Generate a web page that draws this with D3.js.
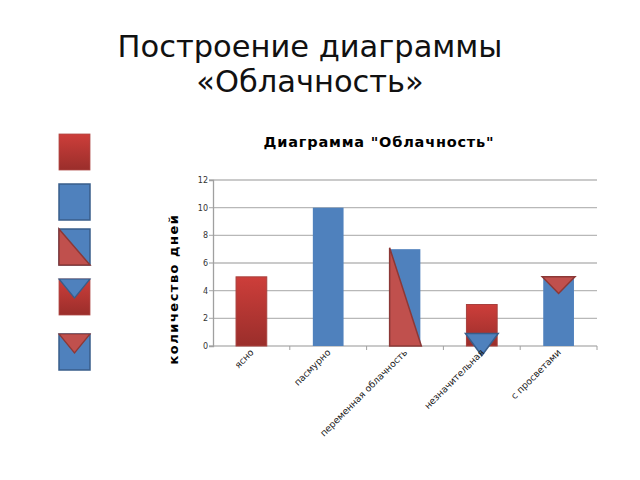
<!DOCTYPE html>
<html><head><meta charset="utf-8">
<script src="https://cdn.jsdelivr.net/npm/d3@7"></script>
<style>body{margin:0;background:#fff}svg{display:block}</style>
</head><body>
<svg id="c" width="640" height="480"></svg>
<script>
const slideTitle = ["Построение диаграммы", "«Облачность»"];
const chartTitle = 'Диаграмма "Облачность"';
const yAxisTitle = "количество дней";
const categories = ["ясно", "пасмурно", "переменная облачность", "незначительная", "с просветами"];
const values = [5, 10, 7, 3, 5];
const barSeries = ["red", "blue", "blue", "red", "blue"];
// overlay triangles: [top value, bottom value] per category (null = none)
const overlayKind = [null, null, "diag", "down", "down"];
const overlayTop = [null, null, 7.1, 0.9, 5];
const overlayBottom = [null, null, 0, -0.7, 3.8];
const overlaySeries = [null, null, "red", "blue", "red"];
const yTicks = [0, 2, 4, 6, 8, 10, 12];

const svg = d3.select("#c");
const defs = svg.append("defs");
const gr = defs.append("linearGradient").attr("id","gRed").attr("x1",0).attr("y1",0).attr("x2",0).attr("y2",1);
gr.append("stop").attr("offset","0%").attr("stop-color","#cd3e3a");
gr.append("stop").attr("offset","100%").attr("stop-color","#9a2e2b");

const fills = {red:"url(#gRed)", blue:"#4f81bd"};
const triFill = {red:"#c0504d", blue:"#4f81bd"};
const triStroke = {red:"#8c3836", blue:"#385d8a"};

// slide title
svg.append("text")
  .attr("font-family","DejaVu Sans").attr("font-size",30.5).attr("fill","#111")
  .attr("text-anchor","middle")
  .selectAll("tspan").data(slideTitle).join("tspan")
  .attr("x",310).attr("y",(d,i)=>57+i*35).text(d=>d);

// chart
const x = d3.scaleBand().domain(categories).range([213,597]).paddingInner(0.6).paddingOuter(0.3);
const xb = d3.scaleBand().domain(categories).range([213,597]);
const y = d3.scaleLinear().domain([0,12]).range([346,180]);

svg.append("text").attr("x",379).attr("y",147).attr("text-anchor","middle")
  .attr("font-family","DejaVu Sans").attr("font-weight","bold").attr("font-size",14.5)
  .attr("letter-spacing",0.8).attr("fill","#000").text(chartTitle);

// gridlines
svg.append("g").selectAll("line").data(yTicks).join("line")
  .attr("x1",209).attr("x2",597).attr("y1",d=>y(d)).attr("y2",d=>y(d))
  .attr("stroke","#b8b8b8").attr("stroke-width",1.3);

// y axis
const ya = svg.append("g").attr("transform","translate(213,0)")
  .call(d3.axisLeft(y).tickValues(yTicks).tickSize(4).tickFormat(d3.format("d")));
ya.select(".domain").attr("stroke","#a0a0a0").attr("stroke-width",1.3);
ya.selectAll(".tick line").remove();
ya.selectAll("text").attr("font-family","DejaVu Sans").attr("font-size",8).attr("fill","#333").attr("x",-5);

// x axis tick marks between categories
svg.append("g").selectAll("line").data(categories).join("line")
  .attr("x1",d=>xb(d) + xb.bandwidth()).attr("x2",d=>xb(d) + xb.bandwidth())
  .attr("y1",346).attr("y2",350).attr("stroke","#a0a0a0");

// bars
svg.append("g").selectAll("rect").data(categories).join("rect")
  .attr("x",d=>x(d)).attr("width",x.bandwidth())
  .attr("y",(d,i)=>y(values[i])).attr("height",(d,i)=>y(0)-y(values[i]))
  .attr("fill",(d,i)=>fills[barSeries[i]])
  .attr("stroke",(d,i)=>barSeries[i]==="red" ? "#a8403d" : "none")
  .attr("stroke-width",1);

// overlay triangles
const ov = categories.map((c,i)=>({c,i})).filter(o=>overlayKind[o.i]);
svg.append("g").selectAll("path").data(ov).join("path")
  .attr("d",o=>{
    const x0 = x(o.c), w = x.bandwidth();
    const t = y(overlayTop[o.i]), b = y(overlayBottom[o.i]);
    if (overlayKind[o.i]==="diag") return `M${x0},${t}L${x0},${b}L${x0+w+1},${b}Z`;
    return `M${x0-1},${t}L${x0+w+1},${t}L${x0+w/2},${b}Z`;
  })
  .attr("fill",o=>triFill[overlaySeries[o.i]])
  .attr("stroke",o=>triStroke[overlaySeries[o.i]]).attr("stroke-width",1.5)
  .attr("stroke-linejoin","miter");

// x labels
svg.append("g").selectAll("text").data(categories).join("text")
  .attr("transform",d=>`translate(${xb(d)+xb.bandwidth()/2+3},353) rotate(-45)`)
  .attr("text-anchor","end").attr("font-family","DejaVu Sans").attr("font-size",9.3).attr("fill","#1a1a1a")
  .text(d=>d);

// y title
svg.append("text").attr("transform","translate(178,289) rotate(-90)")
  .attr("text-anchor","middle").attr("font-family","DejaVu Sans").attr("font-weight","bold")
  .attr("font-size",13).attr("letter-spacing",1.5).attr("fill","#000").text(yAxisTitle);

// left legend icons
const icons = [
  {y:134, base:"red", tri:null},
  {y:184, base:"blue", tri:null},
  {y:229, base:"blue", tri:"diag"},
  {y:279, base:"red", tri:"blueDown"},
  {y:334, base:"blue", tri:"redDown"}
];
const lg = svg.append("g");
icons.forEach(ic=>{
  const x0=59, w=31, h=36;
  lg.append("rect").attr("x",x0).attr("y",ic.y).attr("width",w).attr("height",h)
    .attr("fill",fills[ic.base]).attr("stroke",ic.base==="red"?"#b04a47":"#385d8a").attr("stroke-width",ic.base==="red"?0.8:1.5);
  if (ic.tri==="diag") lg.append("path").attr("d",`M${x0},${ic.y}L${x0},${ic.y+h}L${x0+w},${ic.y+h}Z`)
    .attr("fill","#c0504d").attr("stroke","#8c3836").attr("stroke-width",1.5);
  if (ic.tri==="blueDown") lg.append("path").attr("d",`M${x0},${ic.y}L${x0+w},${ic.y}L${x0+w/2},${ic.y+19}Z`)
    .attr("fill","#4f81bd").attr("stroke","#385d8a").attr("stroke-width",1.2);
  if (ic.tri==="redDown") lg.append("path").attr("d",`M${x0},${ic.y}L${x0+w},${ic.y}L${x0+w/2},${ic.y+19}Z`)
    .attr("fill","#c0504d").attr("stroke","#8c3836").attr("stroke-width",1.2);
});
</script>
</body></html>
